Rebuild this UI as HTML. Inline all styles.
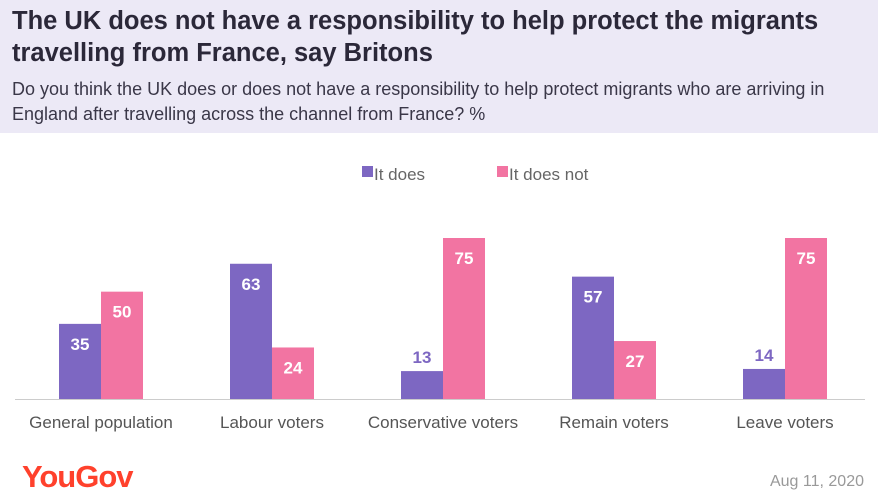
<!DOCTYPE html>
<html><head><meta charset="utf-8"><style>
body{margin:0;width:878px;height:504px;background:#fff;font-family:"Liberation Sans",sans-serif;overflow:hidden;position:relative}
#hdr{position:absolute;left:0;top:0;width:878px;height:133px;background:#ece9f6}
h1{position:absolute;left:12px;top:5px;margin:0;font-size:25.5px;line-height:32px;color:#2b2839;font-weight:bold;width:860px}
.sub{position:absolute;left:12px;top:77px;margin:0;font-size:18px;line-height:25px;color:#3a3748;width:862px}
.logo{position:absolute;left:22px;top:459px;font-size:31px;font-weight:bold;color:#ff412c;letter-spacing:-1px}
.date{position:absolute;right:14px;top:473px;font-size:16px;color:#999}
</style></head><body>
<div id="hdr"></div>
<h1>The UK does not have a responsibility to help protect the migrants travelling from France, say Britons</h1>
<p class="sub">Do you think the UK does or does not have a responsibility to help protect migrants who are arriving in England after travelling across the channel from France? %</p>
<svg id="chart" width="878" height="504" style="position:absolute;left:0;top:0"></svg>
<div class="logo">YouGov</div>
<div class="date">Aug 11, 2020</div>
<script>
const categories=["General population","Labour voters","Conservative voters","Remain voters","Leave voters"];
const itDoes=[35,63,13,57,14];
const itDoesNot=[50,24,75,27,75];
const seriesNames=["It does","It does not"];
const NS="http://www.w3.org/2000/svg";
const svg=document.getElementById('chart');
const base=399,scale=161/75,gx0=101,gstep=171,bw=42;
const colors=["#7d67c2","#f274a2"];
function y(v){return base-v*scale;}
function gx(i){return gx0+i*gstep;}
function mk(t,a){const e=document.createElementNS(NS,t);for(const k in a)e.setAttribute(k,a[k]);svg.appendChild(e);return e;}
const ax=mk('line',{x1:15,x2:865,y1:base+0.5,y2:base+0.5,stroke:'#ccc','stroke-width':1});


[itDoes,itDoesNot].forEach((s,si)=>{
 s.forEach((v,i)=>{
  const x=gx(i)+(si?0:-bw);
  const r=mk('rect',{x:x,y:y(v),width:bw,height:v*scale,fill:colors[si]});
  
  
  const inside=v*scale>40;
  const t=mk('text',{x:x+bw/2,y:y(v)+(inside?26:-8),'text-anchor':'middle','font-size':17,'font-weight':'bold',fill:inside?'#fff':colors[si]});
  t.textContent=v;
  
  
 });
});
categories.forEach((c,i)=>{
 const t=mk('text',{x:gx(i),y:428,'text-anchor':'middle','font-size':17,fill:'#555'});
 t.textContent=c;
 
 
});
const lx=[362,497];
seriesNames.forEach((n,i)=>{
 const r=mk('rect',{x:lx[i],y:166,width:11,height:11,fill:colors[i]});
 
 
 const t=mk('text',{x:lx[i]+12,y:180,'font-size':17,fill:'#666'});
 t.textContent=n;
 
 
});
</script>
</body></html>
